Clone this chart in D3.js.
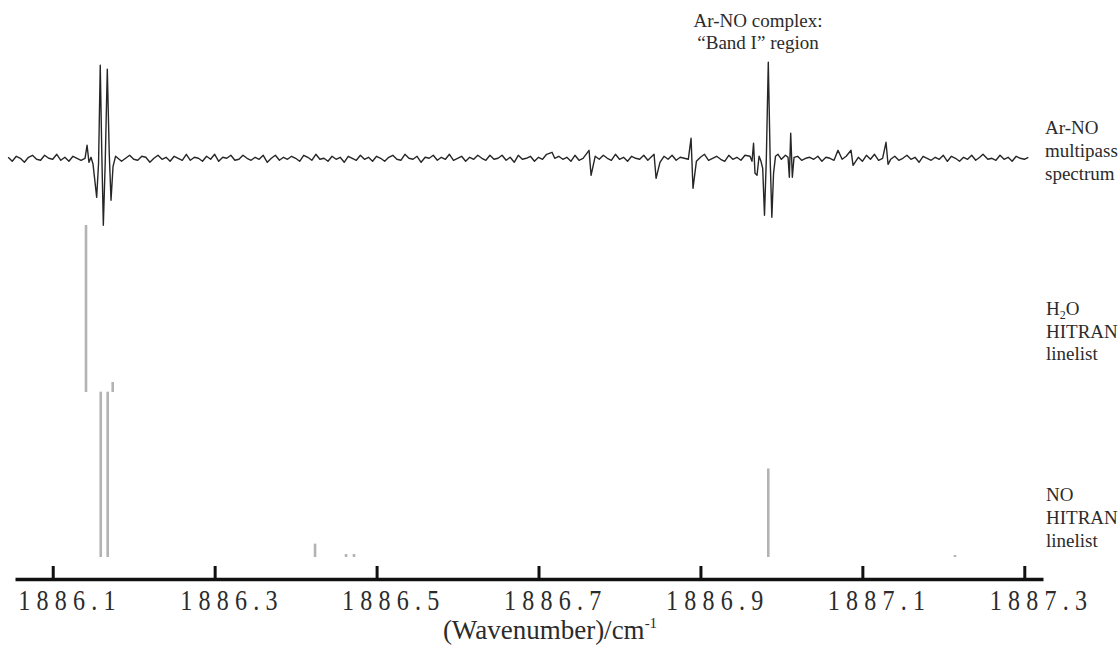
<!DOCTYPE html>
<html>
<head>
<meta charset="utf-8">
<script src="https://cdn.jsdelivr.net/npm/d3@7"></script>
<style>
    body { margin: 0; background: #fff; }
    svg { display: block; }
    svg text { font-family: "Liberation Serif", "Times New Roman", Times, "DejaVu Serif", serif; }
</style>
</head>
<body>
<div id="chart"></div>
<script>
// wavenumber ticks on the bottom axis
const tickValues = [1886.1, 1886.3, 1886.5, 1886.7, 1886.9, 1887.1, 1887.3];

// Ar-NO multipass spectrum: baseline noise read every 0.005 cm-1 (arbitrary units)
const noiseStart = 1886.045;
const noiseStep = 0.005;
const noiseValues = [
    1, -3, 2, 0, -4, 1, 3, -1, -2, 3, 0, -1, 4, -2, 1, -3, 2, 0, -2, 3,
    -2, 1, 4, -1, 0, -3, 2, 1, -3, 0, 3, -1, -2, 2, 1, -4, 0, 3, -1, 1,
    -3, 2, 0, -2, 4, -2, 1, 0, -3, 2, -1, 4, -3, 1, 0, 3, -2, -1, 3, 0,
    -2, 1, -1, 3, -4, 0, 3, -2, 1, -1, 2, 0, -3, 3, 1, -2, 4, -1, 0, -3,
    2, -1, 1, -4, 2, 0, -2, 3, -1, 1, -3, 2, 0, -3, 1, 3, -1, -2, 4, 0,
    -1, 2, -4, 1, 0, 3, -2, 1, -1, 4, -2, 0, 2, -3, 1, -1, 3, 0, -2, 3,
    -1, 0, 3, -2, 1, -4, 3, -1, 0, 2, -3, 1, -1, 4, -3, 0, 2, -1, 1, -3,
    3, -2, 0, 1, -4, 2, -1, 3, 0, -2, 4, -1, 1, -3, 2, 0, -1, 3, -2, 1,
    0, -4, 2, -1, 3, -2, 1, 0, -1, 3, -3, 1, 4, -2, 0, 2, -1, -3, 3, -1,
    1, -2, 3, 0, -3, 4, -1, 1, -2, 2, 0, -1, 3, -4, 1, 2, -2, 0, 1, -1,
    2, -3, 1, 0, -2, 4, -1, 2, -3, 0, 1, -3, 3, -1, 4, -2, 0, 1, -1, 2,
    -2, 0, 3, -1, 1, -4, 2, 0, -2, 1, -1, 3, -3, 2, 0, -3, 1, -1, 3, -2,
    1, 3, -1, 0, -2, 3, -1, 1, -3, 2, 0, -1, 1
];

// sharp features in the spectrum [wavenumber, intensity]
const spectrumFeatures = [
    [1886.1399, 0], [1886.1424, 13], [1886.1448, -4], [1886.1473, 1], [1886.1498, -6],
    [1886.1543, -39], [1886.1566, -5], [1886.1587, 93], [1886.1606, 5], [1886.1625, -67],
    [1886.1648, -5], [1886.1674, 89], [1886.1698, 5], [1886.1720, -42], [1886.1745, -8],
    [1886.1776, 2],
    [1886.7167, 6],
    [1886.7624, 8], [1886.7649, -17],
    [1886.8427, 4], [1886.8452, -20],
    [1886.8884, 20], [1886.8908, -30],
    [1886.9612, 2], [1886.9637, -3], [1886.9656, 15], [1886.9674, -15], [1886.9699, -17],
    [1886.9724, 2], [1886.9748, -3], [1886.9769, -10], [1886.9791, -57], [1886.9814, 0],
    [1886.9838, 96], [1886.9861, 0], [1886.9882, -59], [1886.9903, -15], [1886.9927, 2],
    [1886.9958, 4],
    [1887.0082, 1], [1887.0098, -19], [1887.0115, 25], [1887.0135, -19], [1887.0156, 1],
    [1887.0699, 8],
    [1887.0860, 8], [1887.0885, -7],
    [1887.1292, 16], [1887.1317, -6],
    [1887.2490, 4]
];

// HITRAN line positions and relative intensities
const h2oLines = [[1886.1411, 1.0], [1886.1741, 0.06]];
const noLines = [
    [1886.1593, 0.99], [1886.1679, 0.99], [1886.4240, 0.08], [1886.4623, 0.018],
    [1886.4721, 0.018], [1886.9838, 0.53], [1887.2144, 0.012]
];

const width = 1120, height = 647;
const textColor = "#2b2b2b";
const serif = "'Liberation Serif', 'Times New Roman', Times, 'DejaVu Serif', serif";

const svg = d3.select("#chart")
    .append("svg")
    .attr("width", width)
    .attr("height", height);

const x = d3.scaleLinear()
    .domain([1886.0534, 1887.3231])
    .range([15, 1043]);

const ySpec = d3.scaleLinear().domain([-100, 100]).range([258.3, 58.3]);
const stickHeight = d3.scaleLinear().domain([0, 1]).range([0, 167]);

// merge noise grid with the features, dropping grid points that sit on a feature
const spectrum = noiseValues
    .map((v, i) => [noiseStart + i * noiseStep, v])
    .filter(p => !spectrumFeatures.some(f => Math.abs(f[0] - p[0]) < 0.003))
    .concat(spectrumFeatures)
    .sort((a, b) => a[0] - b[0]);

svg.append("path")
    .datum(spectrum)
    .attr("fill", "none")
    .attr("stroke", "#262626")
    .attr("stroke-width", 1.4)
    .attr("stroke-linejoin", "round")
    .attr("d", d3.line()
        .x(d => x(d[0]))
        .y(d => ySpec(d[1])));

const drawSticks = (lines, baseline) => {
    svg.append("g")
        .selectAll("line")
        .data(lines)
        .enter()
        .append("line")
        .attr("x1", d => x(d[0]))
        .attr("x2", d => x(d[0]))
        .attr("y1", baseline)
        .attr("y2", d => baseline - stickHeight(d[1]))
        .attr("stroke", "#b3b3b3")
        .attr("stroke-width", 2.6);
};

drawSticks(h2oLines, 392);
drawSticks(noLines, 557);

// bottom axis, ticks pointing up
const axis = svg.append("g")
    .attr("transform", "translate(0,579)")
    .call(d3.axisBottom(x)
        .tickValues(tickValues)
        .tickFormat(d3.format(".1f"))
        .tickSizeInner(-13)
        .tickSizeOuter(0));

axis.attr("font-family", serif);
axis.select(".domain")
    .attr("stroke", "#111")
    .attr("stroke-width", 3.5);
axis.selectAll(".tick line")
    .attr("stroke", "#111")
    .attr("stroke-width", 3);
axis.selectAll(".tick text")
    .attr("fill", textColor)
    .attr("font-family", serif)
    .attr("font-size", 29)
    .attr("letter-spacing", "7.5px")
    .attr("text-anchor", "start")
    .attr("y", 31)
    .attr("dy", 0)
    .attr("transform", "translate(-35,0) scale(0.83,1)");

// axis title
const title = svg.append("text")
    .attr("x", 550)
    .attr("y", 639)
    .attr("text-anchor", "middle")
    .attr("font-family", serif)
    .attr("font-size", 27)
    .attr("fill", textColor)
    .text("(Wavenumber)/cm");
title.append("tspan")
    .attr("font-size", 15)
    .attr("dy", -11)
    .text("-1");

// labels on the right
const addLabel = (lines, xPos, yStart, step) => {
    lines.forEach((line, i) => {
        const t = svg.append("text")
            .attr("x", xPos)
            .attr("y", yStart + i * step)
            .attr("font-family", serif)
            .attr("font-size", 19)
            .attr("fill", textColor);
        line.forEach(part => {
            const s = t.append("tspan").text(part.text);
            if (part.sub) s.attr("font-size", 12).attr("dy", 4);
            if (part.after) s.attr("dy", -4);
        });
    });
};

addLabel([[{ text: "Ar-NO" }], [{ text: "multipass" }], [{ text: "spectrum" }]], 1045, 134, 23);
addLabel([[{ text: "H" }, { text: "2", sub: true }, { text: "O", after: true }], [{ text: "HITRAN" }], [{ text: "linelist" }]], 1046, 315, 22.5);
addLabel([[{ text: "NO" }], [{ text: "HITRAN" }], [{ text: "linelist" }]], 1046, 501, 23);

// annotation above the Band I peak
const annotation = ["Ar-NO complex:", "\u201CBand I\u201D region"];
annotation.forEach((line, i) => {
    svg.append("text")
        .attr("x", 758)
        .attr("y", 27 + i * 22)
        .attr("text-anchor", "middle")
        .attr("font-family", serif)
        .attr("font-size", 19)
        .attr("fill", textColor)
        .text(line);
});
</script>
</body>
</html>
